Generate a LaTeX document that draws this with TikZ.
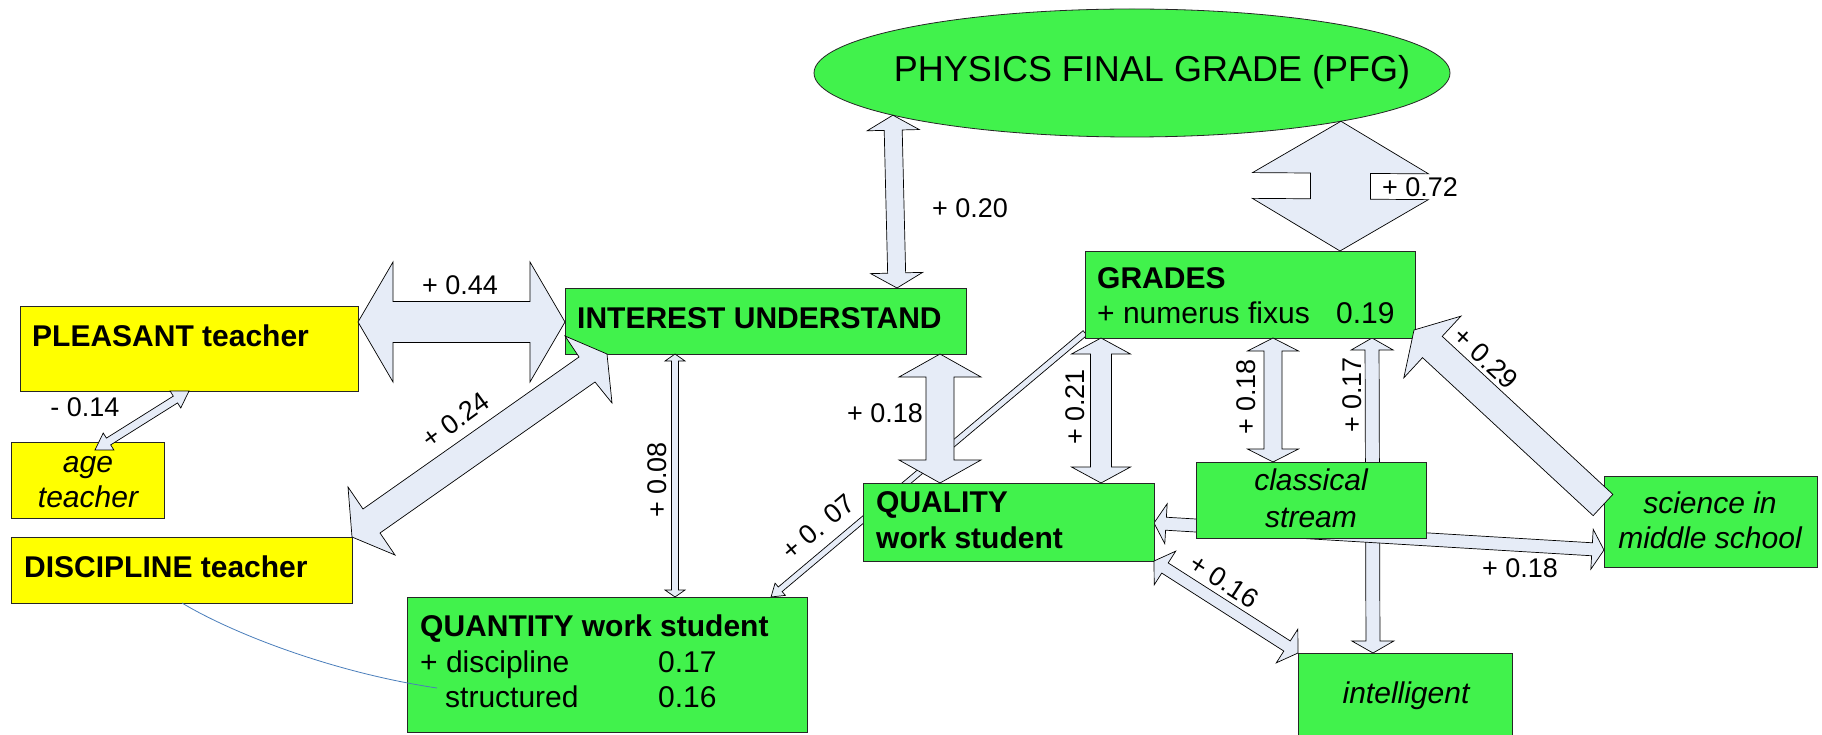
\documentclass[tikz,border=0pt]{standalone}
\usepackage{fontspec}
\setmainfont{Liberation Sans}
\usetikzlibrary{shapes.geometric}
\pgfdeclarelayer{behind}
\pgfsetlayers{behind,main}
\definecolor{boxgreen}{RGB}{65,242,76}
\definecolor{boxyellow}{RGB}{255,255,0}
\definecolor{arrowfill}{RGB}{230,236,247}
\definecolor{curveblue}{RGB}{74,126,187}
% double block arrow: start, end, shaft half width, head length, head half width
\newcommand\dblarrow[5]{%
  \path #1; \pgfgetlastxy{\arAx}{\arAy}%
  \path #2; \pgfgetlastxy{\arBx}{\arBy}%
  \pgfmathsetmacro\arAng{atan2(\arBy-\arAy,\arBx-\arAx)}%
  \pgfmathsetmacro\arLen{veclen(\arBx-\arAx,\arBy-\arAy)}%
  \begin{scope}[shift={(\arAx,\arAy)},rotate=\arAng]
    \path[blockarrow] (0pt,0pt) -- (#4pt,#5pt) -- (#4pt,#3pt) -- ({\arLen pt-#4pt},#3pt)
      -- ({\arLen pt-#4pt},#5pt) -- (\arLen pt,0pt) -- ({\arLen pt-#4pt},-#5pt)
      -- ({\arLen pt-#4pt},-#3pt) -- (#4pt,-#3pt) -- (#4pt,-#5pt) -- cycle;
  \end{scope}}
% single block arrow: start, end, shaft half width, head length, head half width
\newcommand\sglarrow[5]{%
  \path #1; \pgfgetlastxy{\arAx}{\arAy}%
  \path #2; \pgfgetlastxy{\arBx}{\arBy}%
  \pgfmathsetmacro\arAng{atan2(\arBy-\arAy,\arBx-\arAx)}%
  \pgfmathsetmacro\arLen{veclen(\arBx-\arAx,\arBy-\arAy)}%
  \begin{scope}[shift={(\arAx,\arAy)},rotate=\arAng]
    \path[blockarrow] (0pt,#3pt) -- ({\arLen pt-#4pt},#3pt)
      -- ({\arLen pt-#4pt},#5pt) -- (\arLen pt,0pt) -- ({\arLen pt-#4pt},-#5pt)
      -- ({\arLen pt-#4pt},-#3pt) -- (0pt,-#3pt) -- cycle;
  \end{scope}}
\tikzset{
  gbox/.style={draw=black!85, line width=0.8pt, fill=boxgreen, inner sep=0pt, outer sep=0pt, anchor=north west},
  ybox/.style={gbox, fill=boxyellow},
  blockarrow/.style={draw=black, line width=0.7pt, fill=arrowfill, line join=miter},
  txt/.style={inner sep=0pt, font=\fontsize{30}{36}\selectfont},
  btxt/.style={inner sep=0pt, font=\fontsize{30}{36}\selectfont\bfseries},
  itxt/.style={inner sep=0pt, font=\fontsize{30}{36}\selectfont\itshape},
  lbl/.style={inner sep=0pt, font=\fontsize{27}{32}\selectfont},
  bigtxt/.style={inner sep=0pt, font=\fontsize{36}{42}\selectfont},
  link/.style={draw=curveblue, line width=0.8pt}
}
\begin{document}
\begin{tikzpicture}[x=1pt,y=-1pt]
\clip (0,0) rectangle (1822,735);
\begin{pgfonlayer}{behind}
\fill[white] (0,0) rectangle (1822,735);
\end{pgfonlayer}

% ---------- boxes ----------
\node[ybox, minimum width=338pt, minimum height=85pt] (pleasant) at (20,306) {};
\node[ybox, minimum width=153pt, minimum height=76pt] (age) at (11,442) {};
\node[ybox, minimum width=341pt, minimum height=66pt] (discipline) at (11,537) {};
\node[draw=black!85, line width=0.8pt, fill=boxgreen, ellipse, minimum width=636pt, minimum height=128pt, inner sep=0pt, outer sep=0pt] (pfg) at (1132,73) {};
\node[gbox, minimum width=401pt, minimum height=66pt] (interest) at (565,288) {};
\node[gbox, minimum width=400pt, minimum height=135pt] (quantity) at (407,597) {};
\node[gbox, minimum width=291pt, minimum height=78pt] (quality) at (863,483) {};
\node[gbox, minimum width=330pt, minimum height=87pt] (grades) at (1085,251) {};
\node[gbox, minimum width=230pt, minimum height=76pt] (classical) at (1196,462) {};
\node[gbox, minimum width=213pt, minimum height=91pt] (science) at (1604,476) {};
\node[gbox, minimum width=214pt, minimum height=92pt] (intelligent) at (1298,653) {};

% ---------- arrows passing behind boxes ----------
\begin{pgfonlayer}{behind}
\sglarrow{([yshift=5pt]grades.south west)}{([xshift=-36pt]quantity.north east)}{3}{12}{8}
\dblarrow{([xshift=122pt]grades.south)}{([xshift=-32pt]intelligent.north)}{7}{12}{21}
\dblarrow{([yshift=-1pt]quality.east)}{([yshift=-28.5pt]science.west)}{6.5}{12}{20}
\end{pgfonlayer}

% ---------- arrows on top ----------
\dblarrow{(pfg.190.8)}{([xshift=131.5pt]interest.north)}{9}{15}{26}
\dblarrow{(pfg.347)}{([xshift=90pt]grades.north)}{30}{52}{88}
\dblarrow{([yshift=26.5pt]pleasant.east)}{([yshift=-1pt]interest.west)}{20.5}{35}{60}
% +0.24 (skewed head as in the picture)
\path[blockarrow] (discipline.north east) -- (348,487) -- (363,509) -- (579,357)
  -- ([yshift=-48pt]interest.north west) -- (607,354) -- (612,403) -- (595,382)
  -- (380,533) -- (395,555) -- cycle;
\dblarrow{([xshift=7.5pt,yshift=-8pt]age.north)}{(pleasant.south)}{4}{16}{10}
\dblarrow{([xshift=-90.5pt]interest.south)}{([xshift=68pt]quantity.north)}{3.5}{7}{10}
\dblarrow{([xshift=174.5pt]interest.south)}{([xshift=-68.5pt]quality.north)}{14}{23}{41}
\dblarrow{([xshift=-149pt]grades.south)}{([xshift=92.5pt]quality.north)}{10.5}{16}{29.5}
\dblarrow{([xshift=23pt]grades.south)}{([xshift=-38pt]classical.north)}{9}{13}{25.5}
\dblarrow{(quality.south east)}{(intelligent.north west)}{6}{13}{20}
\sglarrow{([xshift=-1pt,yshift=-29pt]science.north west)}{([xshift=-1pt,yshift=8pt]grades.south east)}{14.5}{25}{42}

% ---------- texts ----------
\node[bigtxt, anchor=base] (pfgtxt) at (1152,82) {PHYSICS FINAL GRADE (PFG)};
\node[btxt, anchor=base west] (pleasanttxt) at (32,346) {PLEASANT teacher};
\node[itxt, anchor=base] (agetxt1) at (88,472) {age};
\node[itxt, anchor=base] (agetxt2) at (88,507) {teacher};
\node[btxt, anchor=base west] (disciplinetxt) at (24,577) {DISCIPLINE teacher};
\node[btxt, anchor=base west] (interesttxt) at (577,328) {INTEREST UNDERSTAND};
\node[btxt, anchor=base west] (quantitytxt) at (420,636) {QUANTITY work student};
\node[txt, anchor=base west] (quantitytxt2) at (420,672) {+ discipline};
\node[txt, anchor=base west] (quantitytxt3) at (445,707) {structured};
\node[txt, anchor=base west] (quantitynum1) at (658,672) {0.17};
\node[txt, anchor=base west] (quantitynum2) at (658,707) {0.16};
\node[btxt, anchor=base west] (qualitytxt1) at (876,512) {QUALITY};
\node[btxt, anchor=base west] (qualitytxt2) at (876,548) {work student};
\node[btxt, anchor=base west] (gradestxt1) at (1097,288) {GRADES};
\node[txt, anchor=base west] (gradestxt2) at (1097,323) {+ numerus fixus};
\node[txt, anchor=base west] (gradesnum) at (1336,323) {0.19};
\node[itxt, anchor=base] (classicaltxt1) at (1311,490) {classical};
\node[itxt, anchor=base] (classicaltxt2) at (1311,527) {stream};
\node[itxt, anchor=base] (sciencetxt1) at (1710,513) {science in};
\node[itxt, anchor=base] (sciencetxt2) at (1710,548) {middle school};
\node[itxt, anchor=base] (intelligenttxt) at (1406,703) {intelligent};

% ---------- labels ----------
\node[lbl] (l44) at (460,285) {+ 0.44};
\node[lbl] (l14) at (85,407) {- 0.14};
\node[lbl, rotate=36] (l24) at (456,420) {+ 0.24};
\node[lbl] (l20) at (970,208) {+ 0.20};
\node[lbl, anchor=base west] (l72) at (1382,197) {+ 0.72};
\node[lbl, rotate=90] (l08) at (657,480) {+ 0.08};
\node[lbl] (l18a) at (885,413) {+ 0.18};
\node[lbl, rotate=40] (l07) at (818,527) {+ 0. 07};
\node[lbl, rotate=90] (l21) at (1075,407) {+ 0.21};
\node[lbl, rotate=90] (l18b) at (1246,397) {+ 0.18};
\node[lbl, rotate=90] (l17) at (1352,395) {+ 0.17};
\node[lbl, rotate=-43] (l29) at (1486,358) {+ 0.29};
\node[lbl] (l18c) at (1520,568) {+ 0.18};
\node[lbl, rotate=-33] (l16) at (1224,581) {+ 0.16};

% ---------- thin blue link ----------
\coordinate (linkS) at ([xshift=0.5pt]discipline.south);
\coordinate (linkE) at ([xshift=30pt,yshift=-23.5pt]quantity.west);
\draw[link] (linkS) .. controls (230,632) and (330,672) .. (linkE);
\end{tikzpicture}
\end{document}
